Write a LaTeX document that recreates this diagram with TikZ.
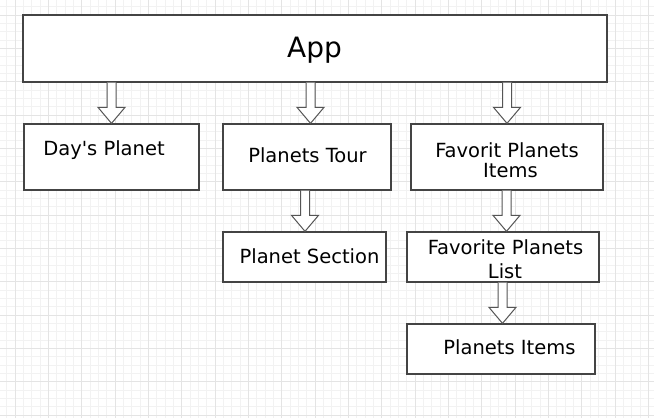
\documentclass[tikz,border=0pt]{standalone}
\usepackage{fontspec}
\setmainfont{DejaVu Sans}[Ligatures=TeXOff]
\usetikzlibrary{calc}
\definecolor{gridmajor}{HTML}{E4E4E4}
\definecolor{gridminor}{HTML}{F2F2F2}
\definecolor{boxline}{HTML}{444444}
\definecolor{arrline}{HTML}{555555}
\tikzset{
  box/.style={draw=boxline, line width=1.3pt, fill=white, inner sep=0pt, rectangle},
  lbl/.style={anchor=base, inner sep=0pt, font=\fontsize{19.5}{23}\selectfont},
  blockarrow/.style={draw=arrline, line width=1pt, fill=white, line join=miter},
}
\newcommand\barrow[3]{%
  \coordinate (bt) at ($(#2.north)+(#3,0)$);
  \coordinate (tp) at (bt |- #1.south);
  \draw[blockarrow] ($(tp)+(-4.5,0)$) -- ($(bt)+(-4.5,-16)$) -- ($(bt)+(-13.5,-16)$) -- (bt)
     -- ($(bt)+(13.5,-16)$) -- ($(bt)+(4.5,-16)$) -- ($(tp)+(4.5,0)$);}
\begin{document}
\begin{tikzpicture}[x=1pt,y=-1pt]
\useasboundingbox (0,0) rectangle (654,418);
\fill[white] (0,0) rectangle (654,418);
% grid
\foreach \i in {0,...,79} {
  \pgfmathsetmacro\p{6.667+8.3333*\i}
  \draw[gridminor, line width=0.6pt] (\p,0) -- (\p,418);
  \draw[gridminor, line width=0.6pt] (0,\p) -- (654,\p);
}
\foreach \i in {0,...,19} {
  \pgfmathsetmacro\p{15+33.3333*\i}
  \draw[gridmajor, line width=0.8pt] (\p,0) -- (\p,418);
  \draw[gridmajor, line width=0.8pt] (0,\p) -- (654,\p);
}
% boxes
\node[box, minimum width=584pt, minimum height=67pt] (app) at (315,48.5) {};
\node[box, minimum width=175pt, minimum height=66pt] (day) at (111.5,157) {};
\node[box, minimum width=168pt, minimum height=66pt] (tour) at (307,157) {};
\node[box, minimum width=163pt, minimum height=50pt] (sect) at (304.5,257) {};
\node[box, minimum width=192pt, minimum height=66pt] (fav) at (507,157) {};
\node[box, minimum width=192pt, minimum height=50pt] (list) at (503,257) {};
\node[box, minimum width=188pt, minimum height=50pt] (items) at (501,349) {};
% arrows
\barrow{app}{day}{0}
\barrow{app}{tour}{3.5}
\barrow{app}{fav}{0}
\barrow{tour}{sect}{0.5}
\barrow{fav}{list}{3.5}
\barrow{list}{items}{1.5}
% labels
\node[lbl, font=\fontsize{28}{32}\selectfont] (tapp) at (314.5,57) {App};
\node[lbl] (tday) at (104,155) {Day's Planet};
\node[lbl] (ttour) at (307.5,162) {Planets Tour};
\node[lbl] (tsect) at (309.5,263) {Planet Section};
\node[lbl] (tfav1) at (507,157) {Favorit Planets};
\node[lbl] (tfav2) at (510.5,177) {Items};
\node[lbl] (tlist1) at (505.5,254) {Favorite Planets};
\node[lbl] (tlist2) at (505,278) {List};
\node[lbl] (titems) at (509.5,354) {Planets Items};
\end{tikzpicture}
\end{document}
